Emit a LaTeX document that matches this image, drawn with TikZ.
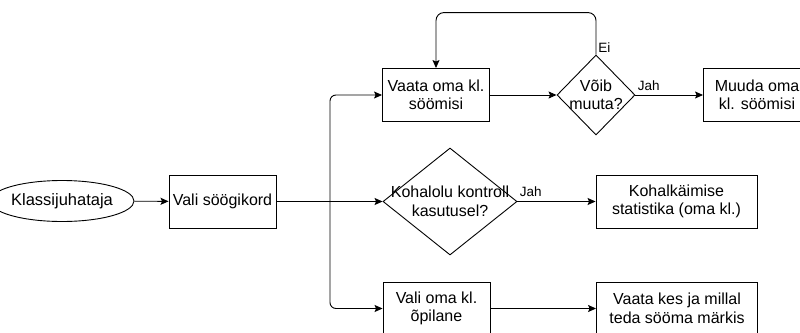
\documentclass[tikz,border=0pt]{standalone}
\usepackage{fontspec}
\setmainfont{Liberation Sans}
\usetikzlibrary{arrows.meta,shapes.geometric}

\begin{document}
\begin{tikzpicture}[x=1pt, y=-1pt,
    txt/.style={font=\fontsize{16}{18.5}\selectfont},
    lbl/.style={font=\fontsize{13.5}{15}\selectfont, inner sep=2pt},
    box/.style={draw, line width=0.9pt, txt, align=center, inner sep=0pt,
      minimum width=107pt, minimum height=53pt},
    widebox/.style={box, minimum width=161pt},
    decision/.style={draw, diamond, line width=0.9pt, inner sep=0pt},
    arrow/.style={line width=0.9pt, -{Stealth[length=8pt, width=7pt, inset=1.5pt]}}]

  \useasboundingbox (0,0) rectangle (800,332);

  % start
  \node[draw, ellipse, line width=0.9pt, font=\fontsize{16.5}{19}\selectfont, inner sep=0pt,
    minimum width=109pt, minimum height=41pt] (kl) at (62,201) {Klassijuhataja};
  \node[box] (vs) at (222.5,201.5) {Vali söögikord};
  \coordinate (split) at (330,201.5);

  % top row
  \node[box] (vaata) at (436,95) {Vaata oma kl.\\söömisi};
  \node[decision, minimum width=78pt, minimum height=80pt,
    label={[txt, align=center]center:Võib\\muuta?}] (voib) at (596,95) {};
  \node[box] (muuda) at (757,95) {Muuda oma\\kl. söömisi};

  % middle row
  \node[decision, minimum width=134pt, minimum height=107pt,
    label={[txt, align=center]center:Kohalolu kontroll\\kasutusel?}] (kk) at (450,201.5) {};
  \node[widebox] (stat) at (676.5,201.5) {Kohalkäimise\\statistika (oma kl.)};

  % bottom row
  \node[box] (opilane) at (436.5,308.5) {Vali oma kl.\\õpilane};
  \node[widebox] (kes) at (677,308.5) {Vaata kes ja millal\\teda sööma märkis};

  % connectors
  \draw[arrow] (kl) -- (vs);
  \draw[arrow] (vs.east) -- (kk.west);
  \draw[arrow, rounded corners=6pt] (split) |- (vaata.west);
  \draw[arrow, rounded corners=6pt] (split) |- (opilane.west);
  \draw[arrow] (vaata) -- (voib);
  \draw[arrow] (voib.east) -- node[lbl, pos=0, anchor=south west, yshift=2pt] {Jah} (muuda.west);
  \draw[arrow, rounded corners=8pt] (voib.north)
    node[lbl, anchor=south west] {Ei} -- ++(0,-42) -| (vaata.north);
  \draw[arrow] (kk.east) -- node[lbl, pos=0, anchor=south west, yshift=2pt] {Jah} (stat.west);
  \draw[arrow] (opilane) -- (kes);
\end{tikzpicture}
\end{document}
